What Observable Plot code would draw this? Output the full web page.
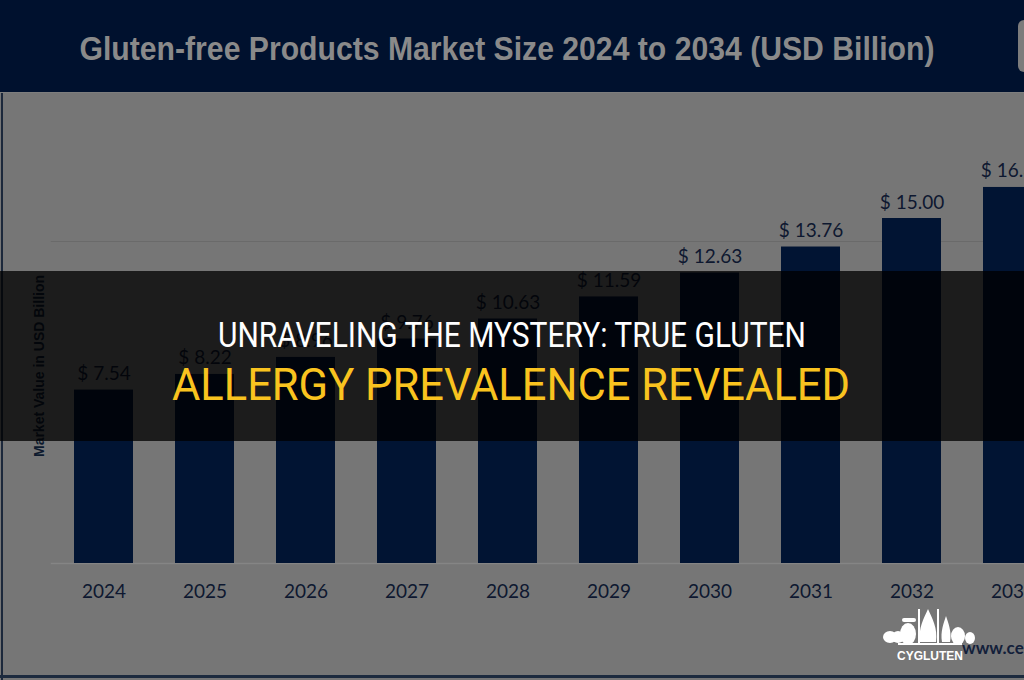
<!DOCTYPE html>
<html>
<head>
<meta charset="utf-8">
<script src="https://cdn.jsdelivr.net/npm/d3@7"></script>
<script src="https://cdn.jsdelivr.net/npm/@observablehq/plot@0.6"></script>
<style>
  html, body { margin: 0; padding: 0; background: #767676; }
  #page { position: relative; width: 1024px; height: 680px; overflow: hidden; background: #767676; }
  #chart { position: absolute; left: 0; top: 0; width: 1120px; height: 680px; }
  #chart svg { max-width: none !important; }
  #titlebar { position: absolute; left: 0; top: 0; width: 1024px; height: 92px; background: #00112e; border-bottom: 1px solid #7e7e7e; }
  #titlebar svg { position: absolute; left: 0; top: 0; }
  #tabedge { position: absolute; left: 1018px; top: 20px; width: 20px; height: 52px; background: #7c7c7c; border-radius: 6px; }
  #leftborder { position: absolute; left: 1px; top: 93px; width: 2px; height: 587px; background: #1c283b; }
  #bottomborder { position: absolute; left: 0; top: 675px; width: 1024px; height: 3px; background: #1c2a3e; }
  #ylabel { position: absolute; left: 39px; top: 366px; transform: translate(-50%, -50%) rotate(-90deg); white-space: nowrap;
            font: bold 14px "Liberation Sans", Arial, sans-serif; color: #0d1a2e; }
  #source { position: absolute; left: 962px; top: 637px; white-space: nowrap; font: bold 17px Lato, "Open Sans", sans-serif; color: #13203a; }
  #band { position: absolute; left: 0; top: 271px; width: 1024px; height: 170px; background: rgba(0,0,0,0.76); }
  #band svg { position: absolute; left: 0; top: 0; }
  #logo { position: absolute; left: 878px; top: 608px; }
</style>
</head>
<body>
<div id="page">
  <div id="chart"></div>
  <div id="leftborder"></div>
  <div id="ylabel">Market Value in USD Billion</div>
  <div id="titlebar">
    <svg width="1024" height="92">
      <text id="titletext" x="507" y="60" text-anchor="middle" textLength="855" lengthAdjust="spacingAndGlyphs"
        font-family="'Liberation Sans Narrow', 'Arial Narrow', 'Liberation Sans', Arial, sans-serif" font-weight="bold" font-size="33" fill="#8a8a8a"></text>
    </svg>
    <div id="tabedge"></div>
  </div>
  <div id="source">www.cervicornconsulting.com</div>
  <div id="bottomborder"></div>
  <div id="band">
    <svg width="1024" height="170">
      <text id="line1" x="512" y="76" text-anchor="middle" textLength="588" lengthAdjust="spacingAndGlyphs"
        font-family="Roboto, 'Liberation Sans', sans-serif" font-size="35" fill="#ffffff"></text>
      <text id="line2" x="511" y="129" text-anchor="middle" textLength="678" lengthAdjust="spacingAndGlyphs"
        font-family="Roboto, 'Liberation Sans', sans-serif" font-size="44" fill="#f9c31f"></text>
    </svg>
  </div>
  <svg id="logo" width="110" height="58">
    <g fill="#ffffff">
      <ellipse cx="12" cy="29" rx="7" ry="6"/>
      <ellipse cx="20" cy="29" rx="6" ry="6"/>
      <ellipse cx="30" cy="26" rx="8" ry="11"/>
      <rect x="24" y="10" width="14" height="4" rx="2"/>
      <path d="M42 34 C40 20 46 10 50 1 C54 10 60 20 58 34 Z"/>
      <rect x="40" y="1" width="2" height="35"/>
      <rect x="59" y="1" width="2" height="35"/>
      <path d="M64 34 C62 24 66 14 68 8 C70 14 74 24 72 34 Z"/>
      <ellipse cx="80" cy="28" rx="7" ry="9"/>
      <ellipse cx="92" cy="30" rx="5" ry="6"/>
      <rect x="20" y="35" width="64" height="2"/>
      <text x="52" y="52" text-anchor="middle" font-family="'Liberation Sans', Arial, sans-serif" font-weight="bold" font-size="13" textLength="66" lengthAdjust="spacingAndGlyphs">CYGLUTEN</text>
    </g>
  </svg>
</div>
<script>
// ---- data ----
const years = ["2024", "2025", "2026", "2027", "2028", "2029", "2030", "2031", "2032", "2033"];
const values = [7.54, 8.22, 8.96, 9.76, 10.63, 11.59, 12.63, 13.76, 15.00, 16.35];
const valueLabels = ["$ 7.54", "$ 8.22", "$ 8.96", "$ 9.76", "$ 10.63", "$ 11.59", "$ 12.63", "$ 13.76", "$ 15.00", "$ 16.35"];
const gridValues = [14];
const titleText = "Gluten-free Products Market Size 2024 to 2034 (USD Billion)";
const bannerLine1 = "UNRAVELING THE MYSTERY: TRUE GLUTEN";
const bannerLine2 = "ALLERGY PREVALENCE REVEALED";

document.getElementById("titletext").textContent = titleText;
document.getElementById("line1").textContent = bannerLine1;
document.getElementById("line2").textContent = bannerLine2;

const data = years.map((year, i) => ({year, value: values[i], label: valueLabels[i]}));

const chart = Plot.plot({
  width: 1120,
  height: 680,
  marginLeft: 50.8,
  marginRight: 1120 - 1065.3,
  marginTop: 103,
  marginBottom: 117,
  style: {background: "transparent", maxWidth: "none"},
  x: {domain: years, paddingInner: 0.415, paddingOuter: 0.2075, align: 0.5, label: null},
  y: {domain: [0, 20], axis: null},
  marks: [
    Plot.ruleY(gridValues, {stroke: "#6a6a6a", strokeWidth: 1}),
    Plot.ruleY([0], {stroke: "#858585", strokeWidth: 1.5}),
    Plot.barY(data, {x: "year", y: "value", fill: "#011433"}),
    Plot.text(data, {x: "year", y: "value", text: "label", dy: -10, lineAnchor: "bottom",
      fill: "#0e1830", fontSize: 19, fontFamily: "Lato, 'Open Sans', sans-serif"}),
    Plot.axisX({tickSize: 0, tickPadding: 21, fontSize: 19, fill: "#0e1830",
      fontFamily: "Lato, 'Open Sans', sans-serif", label: null})
  ]
});
chart.style.maxWidth = "none";
document.getElementById("chart").appendChild(chart);
</script>
</body>
</html>
